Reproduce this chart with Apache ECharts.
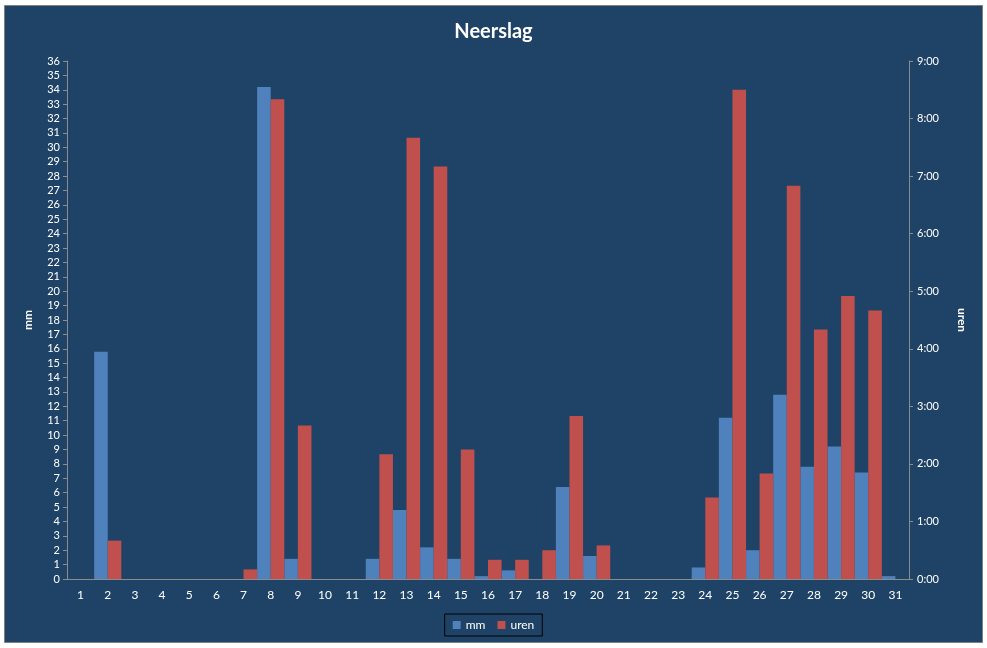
<!DOCTYPE html>
<html lang="nl">
<head>
    <meta charset="UTF-8">
    <title>Neerslag</title>
    <script src="https://cdn.jsdelivr.net/npm/echarts@6/dist/echarts.min.js"></script>
    <style>
        html, body { margin: 0; padding: 0; background: #ffffff; }
        #container { width: 987px; height: 648px; }
    </style>
</head>
<body>
<div id="container"></div>

<script type="text/javascript">
    // dagen van de maand
    var dagen = [];
    for (var d = 1; d <= 31; d++) dagen.push(String(d));

    // neerslag in mm per dag
    var mm = [0, 15.8, 0, 0, 0, 0, 0, 34.2, 1.4, 0,
              0, 1.4, 4.8, 2.2, 1.4, 0.2, 0.6, 0, 6.4, 1.6,
              0, 0, 0, 0.8, 11.2, 2.0, 12.8, 7.8, 9.2, 7.4, 0.2];

    // duur van de neerslag in minuten per dag (as toont u:mm)
    var uren = [0, 40, 0, 0, 0, 0, 10, 500, 160, 0,
                0, 130, 460, 430, 135, 20, 20, 30, 170, 35,
                0, 0, 0, 85, 510, 110, 410, 260, 295, 280, 0];

    var achtergrond = '#1F4366';
    var tekst = '#ffffff';
    var lijn = '#8c8c8c';
    var font = 'Lato';

    var myChart = echarts.init(document.getElementById('container'), null, { renderer: 'canvas' });

    var option = {
        backgroundColor: '#ffffff',
        animation: false,
        textStyle: { fontFamily: font },
        graphic: [{
            type: 'rect',
            z: -10,
            silent: true,
            shape: { x: 4.5, y: 5.5, width: 978, height: 637 },
            style: { fill: achtergrond, stroke: '#7f7f7f', lineWidth: 1 }
        }],
        title: {
            text: 'Neerslag',
            left: 'center',
            top: 17,
            textStyle: { color: tekst, fontSize: 20, fontWeight: 'bold', fontFamily: font }
        },
        legend: {
            data: ['mm', 'uren'],
            icon: 'rect',
            left: 'center',
            bottom: 12,
            itemWidth: 8,
            itemHeight: 8,
            itemGap: 12,
            padding: [5, 8],
            borderColor: '#000000',
            borderWidth: 1,
            textStyle: { color: tekst, fontSize: 12, fontFamily: font }
        },
        grid: { left: 67, right: 78, top: 61, bottom: 69, containLabel: false },
        xAxis: {
            type: 'category',
            data: dagen,
            axisLine: { lineStyle: { color: lijn } },
            axisTick: { length: 5, lineStyle: { color: lijn } },
            axisLabel: { color: tekst, fontSize: 12, margin: 10, interval: 0 },
            splitLine: { show: false }
        },
        yAxis: [{
            type: 'value',
            name: 'mm',
            nameLocation: 'middle',
            nameGap: 33,
            nameTextStyle: { color: tekst, fontWeight: 'bold', fontSize: 12 },
            min: 0,
            max: 36,
            interval: 1,
            axisLine: { show: true, lineStyle: { color: lijn } },
            axisTick: { show: true, length: 4, lineStyle: { color: lijn } },
            axisLabel: { color: tekst, fontSize: 11, margin: 7 },
            splitLine: { show: false }
        }, {
            type: 'value',
            name: 'uren',
            nameLocation: 'middle',
            nameRotate: -90,
            nameGap: 47,
            nameTextStyle: { color: tekst, fontWeight: 'bold', fontSize: 12 },
            min: 0,
            max: 540,
            interval: 60,
            position: 'right',
            axisLine: { show: true, lineStyle: { color: lijn } },
            axisTick: { show: true, length: 4, lineStyle: { color: lijn } },
            axisLabel: {
                color: tekst,
                fontSize: 11,
                margin: 8,
                formatter: function (v) {
                    var h = Math.floor(v / 60);
                    var m = v % 60;
                    return h + ':' + (m < 10 ? '0' + m : m);
                }
            },
            splitLine: { show: false }
        }],
        series: [{
            name: 'mm',
            type: 'bar',
            yAxisIndex: 0,
            data: mm,
            barGap: '0%',
            barCategoryGap: '0%',
            itemStyle: { color: '#4F81BD' }
        }, {
            name: 'uren',
            type: 'bar',
            yAxisIndex: 1,
            data: uren,
            barGap: '0%',
            barCategoryGap: '0%',
            itemStyle: { color: '#C0504D' }
        }]
    };

    myChart.setOption(option);
</script>
</body>
</html>
